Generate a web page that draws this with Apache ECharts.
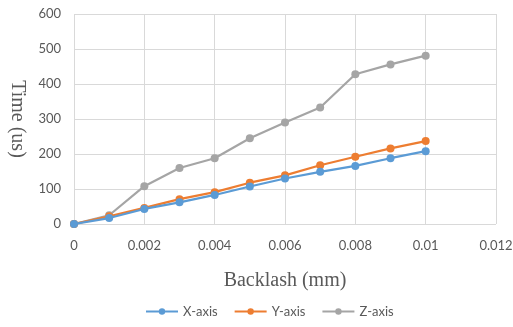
<!DOCTYPE html>
<html>
<head>
<meta charset="utf-8">
<script src="https://cdn.jsdelivr.net/npm/echarts@6/dist/echarts.min.js"></script>
<style>
  html, body { margin: 0; padding: 0; background: #fff; }
</style>
</head>
<body>
<div id="main" style="width: 513px;height: 327px;"></div>
<script>
const backlash = [0, 0.001, 0.002, 0.003, 0.004, 0.005, 0.006, 0.007, 0.008, 0.009, 0.01]
const xAxisTime = [0, 17, 43, 62, 83, 107, 130, 149, 166, 188, 208]
const yAxisTime = [0, 22, 46, 71, 91, 118, 139, 168, 192, 216, 237]
const zAxisTime = [0, 25, 108, 160, 188, 245, 290, 333, 428, 456, 481]

const pairs = ys => backlash.map((x, i) => [x, ys[i]])

const myChart = echarts.init(document.getElementById('main'))

function makeSeries(name, ys, color) {
  return {
    name: name,
    type: 'line',
    data: pairs(ys),
    symbol: 'circle',
    symbolSize: 8,
    lineStyle: {color: color, width: 2.2},
    itemStyle: {color: color},
    z: name === 'Z-axis' ? 1 : (name === 'Y-axis' ? 2 : 3)
  }
}

let option = {
  backgroundColor: '#ffffff',
  animation: false,
  grid: {
    left: 74,
    right: 17,
    top: 14,
    bottom: 103,
    show: false,
    outerBoundsMode: 'none',
    containLabel: false
  },
  legend: {
    bottom: 4,
    left: 140,
    itemWidth: 32,
    itemHeight: 8,
    itemGap: 16,
    textStyle: {color: '#595959', fontSize: 13, fontFamily: 'Lato'},
    data: ['X-axis', 'Y-axis', 'Z-axis']
  },
  xAxis: {
    type: 'value',
    min: 0,
    max: 0.012,
    interval: 0.002,
    name: 'Backlash (mm)',
    nameLocation: 'middle',
    nameGap: 47,
    nameTextStyle: {fontFamily: 'Liberation Serif', fontSize: 20, color: '#595959'},
    axisLine: {show: false},
    axisTick: {show: false},
    axisLabel: {color: '#595959', fontSize: 13, fontFamily: 'Lato', margin: 15},
    splitLine: {show: true, lineStyle: {color: '#d9d9d9', width: 1}}
  },
  yAxis: {
    type: 'value',
    min: 0,
    max: 600,
    interval: 100,
    name: 'Time (us)',
    nameLocation: 'middle',
    nameGap: 45,
    nameRotate: -90,
    nameTextStyle: {fontFamily: 'Liberation Serif', fontSize: 20, color: '#595959'},
    axisLine: {show: false},
    axisTick: {show: false},
    axisLabel: {color: '#595959', fontSize: 13, fontFamily: 'Lato', margin: 13},
    splitLine: {show: true, lineStyle: {color: '#d9d9d9', width: 1}}
  },
  series: [
    makeSeries('X-axis', xAxisTime, '#5B9BD5'),
    makeSeries('Y-axis', yAxisTime, '#ED7D31'),
    makeSeries('Z-axis', zAxisTime, '#A5A5A5')
  ]
}
option && myChart.setOption(option)
</script>
</body>
</html>
